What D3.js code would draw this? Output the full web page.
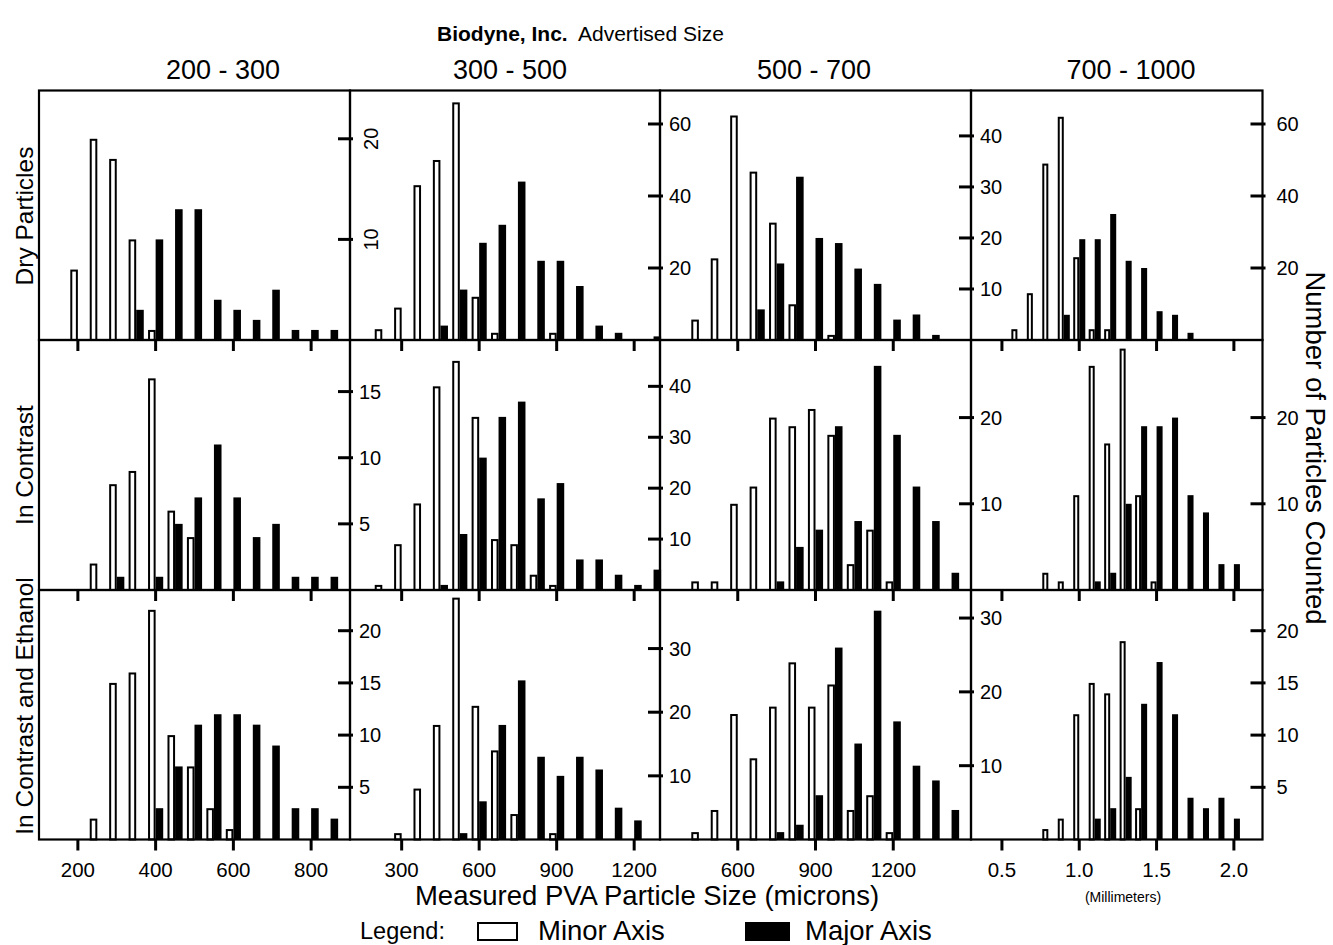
<!DOCTYPE html>
<html>
<head>
<meta charset="utf-8">
<title>Biodyne PVA particle size</title>
<script src="https://cdn.jsdelivr.net/npm/d3@7"></script>
<style>
  body { margin: 0; background: #fff; }
  text { font-family: "Liberation Sans", Arial, sans-serif; fill: #000; }
</style>
</head>
<body>
<svg id="chart"></svg>
<script>
// 1. Data
var sizeGroups = ["200 - 300", "300 - 500", "500 - 700", "700 - 1000"];
var conditions = ["Dry Particles", "In Contrast", "In Contrast and Ethanol"];

// bin values per advertised size column (microns, last one in mm)
var bins200 = [200, 250, 300, 350, 400, 450, 500, 550, 600, 650, 700, 750, 800, 850];
var bins300 = [225, 300, 375, 450, 525, 600, 675, 750, 825, 900, 975, 1050, 1125, 1200, 1275];
var bins500 = [450, 525, 600, 675, 750, 825, 900, 975, 1050, 1125, 1200, 1275, 1350, 1425];
var bins700 = [0.6, 0.7, 0.8, 0.9, 1.0, 1.1, 1.2, 1.3, 1.4, 1.5, 1.6, 1.7, 1.8, 1.9, 2.0];

// Dry particles
var dryMinor200 = [7, 20, 18, 10, 1, 0, 0, 0, 0, 0, 0, 0, 0, 0];
var dryMajor200 = [0, 0, 0, 3, 10, 13, 13, 4, 3, 2, 5, 1, 1, 1];
var dryMinor300 = [3, 9, 43, 50, 66, 12, 2, 0, 0, 2, 0, 0, 0, 0, 0];
var dryMajor300 = [0, 0, 0, 4, 14, 27, 32, 44, 22, 22, 15, 4, 2, 0, 1];
var dryMinor500 = [4, 16, 44, 33, 23, 7, 0, 1, 0, 0, 0, 0, 0, 0];
var dryMajor500 = [0, 0, 0, 6, 15, 32, 20, 19, 14, 11, 4, 5, 1, 0];
var dryMinor700 = [3, 13, 49, 62, 23, 3, 3, 0, 0, 0, 0, 0, 0, 0, 0];
var dryMajor700 = [0, 0, 0, 7, 28, 28, 35, 22, 20, 8, 7, 2, 0, 0, 0];

// In contrast
var conMinor200 = [0, 2, 8, 9, 16, 6, 4, 0, 0, 0, 0, 0, 0, 0];
var conMajor200 = [0, 0, 1, 0, 1, 5, 7, 11, 7, 4, 5, 1, 1, 1];
var conMinor300 = [1, 9, 17, 40, 45, 34, 10, 9, 3, 1, 0, 0, 0, 0, 0];
var conMajor300 = [0, 0, 0, 1, 11, 26, 34, 37, 18, 21, 6, 6, 3, 1, 4];
var conMinor500 = [1, 1, 10, 12, 20, 19, 21, 18, 3, 7, 1, 0, 0, 0];
var conMajor500 = [0, 0, 0, 0, 1, 5, 7, 19, 8, 26, 18, 12, 8, 2];
var conMinor700 = [0, 0, 2, 1, 11, 26, 17, 28, 11, 1, 0, 0, 0, 0, 0];
var conMajor700 = [0, 0, 0, 0, 0, 1, 2, 10, 19, 19, 20, 11, 9, 3, 3];

// In contrast and ethanol
var ethMinor200 = [0, 2, 15, 16, 22, 10, 7, 3, 1, 0, 0, 0, 0, 0];
var ethMajor200 = [0, 0, 0, 0, 3, 7, 11, 12, 12, 11, 9, 3, 3, 2];
var ethMinor300 = [0, 1, 8, 18, 38, 21, 14, 4, 0, 1, 0, 0, 0, 0, 0];
var ethMajor300 = [0, 0, 0, 0, 1, 6, 18, 25, 13, 10, 13, 11, 5, 3, 0];
var ethMinor500 = [1, 4, 17, 11, 18, 24, 18, 21, 4, 6, 1, 0, 0, 0];
var ethMajor500 = [0, 0, 0, 0, 1, 2, 6, 26, 13, 31, 16, 10, 8, 4];
var ethMinor700 = [0, 0, 1, 2, 12, 15, 14, 19, 3, 0, 0, 0, 0, 0, 0];
var ethMajor700 = [0, 0, 0, 0, 0, 2, 3, 6, 13, 17, 12, 4, 3, 4, 2];

// axis domains and ticks
var xDomains = [[100, 900], [100, 1300], [300, 1500], [0.3, 2.185]];
var xTicks = [[200, 400, 600, 800], [300, 600, 900, 1200], [600, 900, 1200], [0.5, 1.0, 1.5, 2.0]];
var binSteps = [50, 75, 75, 0.1];
var yMax = [[24.8, 69.3, 48.9, 69.3], [18.9, 49.1, 29.0, 29.0], [23.9, 39.2, 33.8, 23.9]];
var yTicks = [
  [[10, 20], [20, 40, 60], [10, 20, 30, 40], [20, 40, 60]],
  [[5, 10, 15], [10, 20, 30, 40], [10, 20], [10, 20]],
  [[5, 10, 15, 20], [10, 20, 30], [10, 20, 30], [5, 10, 15, 20]]
];

var bins = [bins200, bins300, bins500, bins700];
var minor = [
  [dryMinor200, dryMinor300, dryMinor500, dryMinor700],
  [conMinor200, conMinor300, conMinor500, conMinor700],
  [ethMinor200, ethMinor300, ethMinor500, ethMinor700]
];
var major = [
  [dryMajor200, dryMajor300, dryMajor500, dryMajor700],
  [conMajor200, conMajor300, conMajor500, conMajor700],
  [ethMajor200, ethMajor300, ethMajor500, ethMajor700]
];

// 2. Layout
var W = 1333, H = 945;
var colEdges = [39, 350, 660, 971, 1262.5];
var rowEdges = [90.5, 340, 590, 839.5];

var svg = d3.select("#chart").attr("width", W).attr("height", H);

// 3. Panels
rowEdges.slice(0, 3).forEach(function(top, r) {
  var bottom = rowEdges[r + 1];
  colEdges.slice(0, 4).forEach(function(left, c) {
    var right = colEdges[c + 1];
    var x = d3.scaleLinear().domain(xDomains[c]).range([left, right]);
    var y = d3.scaleLinear().domain([0, yMax[r][c]]).range([bottom, top]);
    var w = binSteps[c] * 0.39;
    var g = svg.append("g");

    var rows = bins[c].map(function(b, i) {
      return { bin: b, minor: minor[r][c][i], major: major[r][c][i] };
    });

    // major axis bars (filled, right of the bin value)
    g.selectAll(".major").data(rows.filter(function(d) { return d.major > 0; }))
      .enter().append("rect")
      .attr("x", function(d) { return x(d.bin); })
      .attr("width", function(d) { return x(d.bin + w) - x(d.bin); })
      .attr("y", function(d) { return y(d.major); })
      .attr("height", function(d) { return y(0) - y(d.major); })
      .style("fill", "#000");

    // minor axis bars (open, left of the bin value)
    g.selectAll(".minor").data(rows.filter(function(d) { return d.minor > 0; }))
      .enter().append("rect")
      .attr("x", function(d) { return x(d.bin - w) + 1; })
      .attr("width", function(d) { return x(d.bin) - x(d.bin - w) - 2; })
      .attr("y", function(d) { return y(d.minor) + 1; })
      .attr("height", function(d) { return Math.max(0, y(0) - y(d.minor) - 1); })
      .style("fill", "#fff").style("stroke", "#000").style("stroke-width", 2);

    // frame
    g.append("rect")
      .attr("x", left).attr("y", top)
      .attr("width", right - left).attr("height", bottom - top)
      .style("fill", "none").style("stroke", "#000").style("stroke-width", 2.2);

    // x ticks below each panel
    g.selectAll(".xt").data(xTicks[c]).enter().append("line")
      .attr("x1", x).attr("x2", x)
      .attr("y1", bottom).attr("y2", bottom + 11)
      .style("stroke", "#000").style("stroke-width", 3);

    // y ticks on the right edge, labels to the right of it
    g.selectAll(".yt").data(yTicks[r][c]).enter().append("line")
      .attr("x1", right - 12).attr("x2", right + 3)
      .attr("y1", y).attr("y2", y)
      .style("stroke", "#000").style("stroke-width", 3);

    var lab = g.selectAll(".yl").data(yTicks[r][c]).enter().append("text")
      .style("font-size", "20px")
      .text(function(d) { return d; });
    if (r === 0 && c === 0) {
      lab.attr("text-anchor", "middle")
        .attr("transform", function(d) { return "translate(" + (right + 28) + "," + y(d) + ") rotate(-90)"; });
    } else {
      lab.attr("x", right + (c === 3 ? 14 : 9))
        .attr("y", function(d) { return y(d) + 7; });
    }

    // x tick labels under the bottom row
    if (r === 2) {
      g.selectAll(".xl").data(xTicks[c]).enter().append("text")
        .attr("x", x).attr("y", 877)
        .attr("text-anchor", "middle")
        .style("font-size", "20.5px")
        .text(function(d) { return c === 3 ? d3.format(".1f")(d) : d; });
    }
  });
});

// 4. Titles and labels
var title = svg.append("text").attr("x", 437).attr("y", 41).style("font-size", "21px");
title.append("tspan").style("font-weight", "bold").text("Biodyne, Inc.");
title.append("tspan").attr("x", 578).text("Advertised Size");

var headerX = [223, 510, 814, 1131];
svg.selectAll(".hdr").data(sizeGroups).enter().append("text")
  .attr("x", function(d, i) { return headerX[i]; })
  .attr("y", 79)
  .attr("text-anchor", "middle")
  .style("font-size", "27px")
  .text(function(d) { return d; });

var rowLabelY = [216, 465, 706];
svg.selectAll(".rl").data(conditions).enter().append("text")
  .attr("text-anchor", "middle")
  .attr("transform", function(d, i) { return "translate(33," + rowLabelY[i] + ") rotate(-90)"; })
  .style("font-size", "24.5px")
  .text(function(d) { return d; });

svg.append("text")
  .attr("text-anchor", "middle")
  .attr("transform", "translate(1306,448) rotate(90)")
  .style("font-size", "27.5px")
  .text("Number of Particles Counted");

svg.append("text")
  .attr("x", 647).attr("y", 905)
  .attr("text-anchor", "middle")
  .style("font-size", "27.5px")
  .text("Measured PVA Particle Size (microns)");

svg.append("text")
  .attr("x", 1123).attr("y", 902)
  .attr("text-anchor", "middle")
  .style("font-size", "14px")
  .text("(Millimeters)");

// 5. Legend
svg.append("text").attr("x", 360).attr("y", 939).style("font-size", "23.5px").text("Legend:");
svg.append("rect").attr("x", 478).attr("y", 923).attr("width", 39).attr("height", 17)
  .style("fill", "#fff").style("stroke", "#000").style("stroke-width", 2);
svg.append("text").attr("x", 538).attr("y", 940).style("font-size", "27.5px").text("Minor Axis");
svg.append("rect").attr("x", 745).attr("y", 922).attr("width", 45).attr("height", 19)
  .style("fill", "#000");
svg.append("text").attr("x", 805).attr("y", 940).style("font-size", "27.5px").text("Major Axis");
</script>
</body>
</html>
